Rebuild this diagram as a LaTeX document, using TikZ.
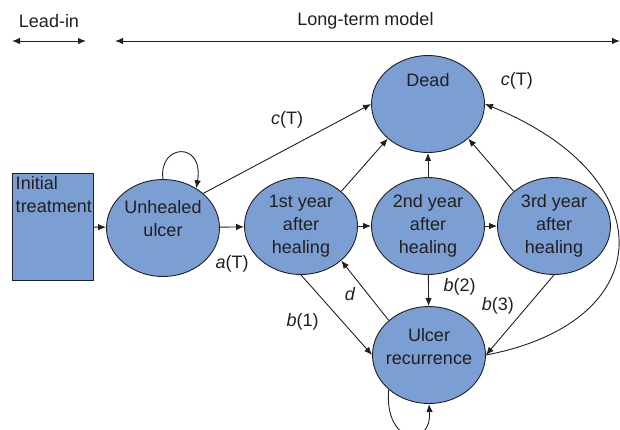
\documentclass[tikz,border=0pt]{standalone}
\usepackage{fontspec}
\setmainfont{Liberation Sans}
\usetikzlibrary{shapes.geometric}
\usetikzlibrary{arrows.meta}
\definecolor{stateblue}{RGB}{123,158,211}
\definecolor{inkgray}{RGB}{35,31,32}

\begin{document}
\begin{tikzpicture}[x=1pt, y=-1pt,
    every node/.style={font=\fontsize{18}{23}\selectfont, text=inkgray},
    state/.style={ellipse, draw=inkgray, line width=0.9pt, fill=stateblue, minimum width=113pt, minimum height=97pt, inner sep=0pt, align=center},
    arr/.style={draw=inkgray, line width=0.9pt, -{Latex[length=8pt,width=6.5pt]}},
    span/.style={draw=inkgray, line width=1pt, {Latex[length=8pt,width=6.5pt]}-{Latex[length=8pt,width=6.5pt]}}]
    \useasboundingbox (0,0) rectangle (620,429);

    \coordinate (leadL) at (12,41);
    \coordinate (leadR) at (86,41);
    \coordinate (longL) at (115,41);
    \coordinate (longR) at (620,41);
    \draw[span] (leadL) -- node[midway, yshift=20pt] (leadtxt) {Lead-in} (leadR);
    \draw[span] (longL) -- node[midway, xshift=-2pt, yshift=20pt] (longtxt) {Long-term model} (longR);

    \node[draw=inkgray, line width=0.9pt, fill=stateblue, minimum width=81pt, minimum height=107pt, inner sep=0pt] (init) at (52.5,226.5) {};
    \node[anchor=north west, align=left, inner sep=4pt] (inittxt) at (init.north west) {Initial\\treatment};

    \node[state, label={[yshift=9pt, align=center]center:Unhealed\\ulcer}] (unheal) at (163,228) {};
    \node[state] (first) at (301,226) {1st year\\after\\healing};
    \node[state] (second) at (428,226) {2nd year\\after\\healing};
    \node[state] (third) at (554,226) {3rd year\\after\\healing};
    \node[state, label={[yshift=24pt]center:Dead}] (dead) at (428,104) {};
    \node[state, label={[yshift=8pt, align=center]center:Ulcer\\recurrence}] (recur) at (429,355) {};

    \draw[arr] (init) -- (unheal);
    \draw[arr] (unheal) -- node[midway, yshift=-37pt] {\textit{a}(T)} (first);
    \draw[arr] (first) -- (second);
    \draw[arr] (second) -- (third);
    \draw[arr] (unheal.north east) -- node[midway, yshift=29pt] {\textit{c}(T)} (dead.west);
    \draw[arr] (first.north east) -- (dead.south west);
    \draw[arr] (second) -- (dead);
    \draw[arr] (third.north west) -- (dead.south east);
    \draw[arr] (first.south) -- node[midway, xshift=-34pt, yshift=-7pt] {\textit{b}(1)} (recur.west);
    \draw[arr] (recur.north west) -- node[midway, xshift=-15pt, yshift=-4pt] {\textit{d}} (first.south east);
    \draw[arr] (second) -- node[midway, xshift=31pt, yshift=4pt] {\textit{b}(2)} (recur);
    \draw[arr] (third.south) -- node[midway, xshift=-22pt, yshift=9pt] {\textit{b}(3)} (recur.east);
    \draw[arr] (recur.east) .. controls (660,322) and (665,177) .. node[at end, xshift=32pt, yshift=23pt] {\textit{c}(T)} (dead.east);

    \draw[arr] (unheal.north) .. controls +(-5,-35) and +(8,-48) .. (unheal.50);
    \draw[arr] (recur.south west) .. controls +(-5,55) and +(3,45) .. (recur.south);
\end{tikzpicture}
\end{document}
